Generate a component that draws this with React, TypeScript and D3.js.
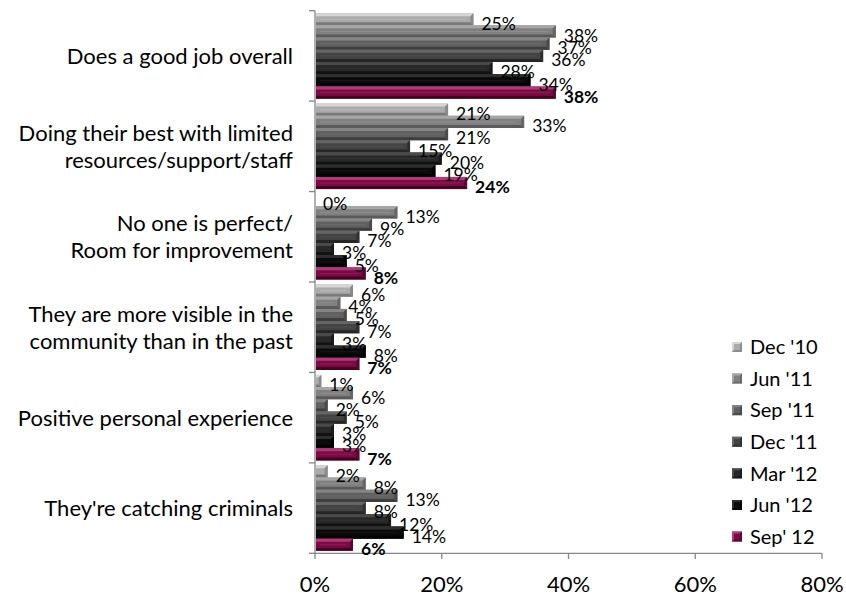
import React from "react";
import * as d3 from "d3";

const categories: string[][] = [
  ["Does a good job overall"],
  ["Doing their best with limited", "resources/support/staff"],
  ["No one is perfect/", "Room for improvement"],
  ["They are more visible in the", "community than in the past"],
  ["Positive personal experience"],
  ["They're catching criminals"],
];
const seriesNames = ["Dec '10", "Jun '11", "Sep '11", "Dec '11", "Mar '12", "Jun '12", "Sep' 12"];
const dec10 = [25, 21, 0, 6, 1, 2];
const jun11 = [38, 33, 13, 4, 6, 8];
const sep11 = [37, 21, 9, 5, 2, 13];
const dec11 = [36, 15, 7, 7, 5, 8];
const mar12 = [28, 20, 3, 3, 3, 12];
const jun12 = [34, 19, 5, 8, 3, 14];
const sep12 = [38, 24, 8, 7, 7, 6];
const seriesValues = [dec10, jun11, sep11, dec11, mar12, jun12, sep12];
const xTicks = [0, 20, 40, 60, 80];

// colors: [light bevel, face, right bevel, bottom bevel]
const palette = [
  ["#d6d6d6", "#ababab", "#8a8a8a", "#7a7a7a"],
  ["#a6a6a6", "#808080", "#666666", "#5a5a5a"],
  ["#858585", "#606060", "#4a4a4a", "#3e3e3e"],
  ["#656565", "#434343", "#303030", "#262626"],
  ["#4a4a4a", "#282828", "#1a1a1a", "#121212"],
  ["#2e2e2e", "#0a0a0a", "#000000", "#000000"],
  ["#b03a78", "#7c0b45", "#5a0632", "#44041f"],
];

const W = 846;
const H = 598;
const FONT = "Lato, 'Open Sans', sans-serif";

export default function App() {
  const x = d3.scaleLinear().domain([0, 80]).range([315, 822]);
  const y = d3
    .scaleBand<number>()
    .domain(categories.map((_, i) => i))
    .range([10.7, 553.3]);
  const inner = d3
    .scaleBand<number>()
    .domain(seriesNames.map((_, i) => i))
    .range([0, y.bandwidth()])
    .paddingInner(0)
    .paddingOuter(0.2);

  const axisColor = "#868686";
  const bars: React.ReactNode[] = [];
  const labels: React.ReactNode[] = [];

  categories.forEach((_, ci) => {
    seriesNames.forEach((_, si) => {
      const v = seriesValues[si][ci];
      const x0 = x(0) + 1;
      const w = Math.max(0, x(v) - x(0) - 1);
      const y0 = (y(ci) as number) + (inner(si) as number);
      const h = inner.bandwidth();
      const [lt, face, rt, bt] = palette[si];
      if (w > 0) {
        const b = Math.min(3, w / 2, h / 3);
        bars.push(
          <g key={`b${ci}-${si}`}>
            <rect x={x0} y={y0} width={w} height={h} fill={face} />
            <polygon
              points={`${x0},${y0} ${x0 + w},${y0} ${x0 + w - b},${y0 + b} ${x0},${y0 + b}`}
              fill={lt}
            />
            <polygon
              points={`${x0},${y0 + h} ${x0 + w},${y0 + h} ${x0 + w - b},${y0 + h - b} ${x0},${y0 + h - b}`}
              fill={bt}
            />
            <polygon
              points={`${x0 + w},${y0} ${x0 + w},${y0 + h} ${x0 + w - b},${y0 + h - b} ${x0 + w - b},${y0 + b}`}
              fill={rt}
            />
            {w > 20 && (
              <line
                x1={x0 + 4}
                x2={x0 + w - b - 4}
                y1={y0 + h / 2}
                y2={y0 + h / 2}
                stroke={lt}
                strokeOpacity={0.35}
                strokeWidth={1}
              />
            )}
          </g>
        );
      }
      labels.push(
        <text
          key={`l${ci}-${si}`}
          x={x(v) + 8}
          y={y0 + h / 2 + 4}
          dy="0.36em"
          fontSize={17.5}
          fontWeight={si === 6 ? "bold" : "normal"}
          fill="#000"
        >
          {`${v}%`}
        </text>
      );
    });
  });

  const legendY0 = 347;
  const legendStep = 31.6;

  return (
    <>
      <style>{`body{margin:0;}`}</style>
      <svg width={W} height={H} style={{ display: "block", fontFamily: FONT }}>
        <rect width={W} height={H} fill="#fff" />
        {/* axes */}
        <line x1={x(0)} x2={x(0)} y1={10.7} y2={553.3} stroke={axisColor} strokeWidth={1.3} />
        <line x1={x(0)} x2={x(80)} y1={553.3} y2={553.3} stroke={axisColor} strokeWidth={1.3} />
        {d3.range(categories.length + 1).map((i) => {
          const yy = 10.7 + i * y.step();
          return <line key={`yt${i}`} x1={x(0) - 6} x2={x(0)} y1={yy} y2={yy} stroke={axisColor} strokeWidth={1.3} />;
        })}
        {xTicks.map((t) => (
          <line key={`xt${t}`} x1={x(t)} x2={x(t)} y1={553.3} y2={559} stroke={axisColor} strokeWidth={1.3} />
        ))}
        {bars}
        {labels}
        {/* category labels */}
        {categories.map((lines, ci) => {
          const cy = (y(ci) as number) + y.bandwidth() / 2;
          const lh = 27;
          const start = cy - ((lines.length - 1) * lh) / 2;
          return (
            <text key={`c${ci}`} textAnchor="end" fontSize={22} fill="#000">
              {lines.map((ln, li) => (
                <tspan key={li} x={293} y={start + li * lh} dy="0.36em">
                  {ln}
                </tspan>
              ))}
            </text>
          );
        })}
        {/* x tick labels */}
        {xTicks.map((t) => (
          <text key={`xl${t}`} x={x(t)} y={592} textAnchor="middle" fontSize={22} fill="#000">
            {`${t}%`}
          </text>
        ))}
        {/* legend */}
        {seriesNames.map((name, si) => {
          const cy = legendY0 + si * legendStep;
          const [lt, face, rt, bt] = palette[si];
          const sx = 732;
          const sy = cy - 5;
          return (
            <g key={`lg${si}`}>
              <rect x={sx} y={sy} width={10} height={10} fill={face} />
              <polygon points={`${sx},${sy} ${sx + 10},${sy} ${sx},${sy + 10}`} fill={lt} />
              <polygon points={`${sx + 10},${sy} ${sx + 10},${sy + 10} ${sx},${sy + 10}`} fill={bt} opacity={0.6} />
              <rect x={sx + 2} y={sy + 2} width={6} height={6} fill={face} />
              <text x={750} y={cy} dy="0.36em" fontSize={20} fill="#000">
                {name}
              </text>
            </g>
          );
        })}
      </svg>
    </>
  );
}
